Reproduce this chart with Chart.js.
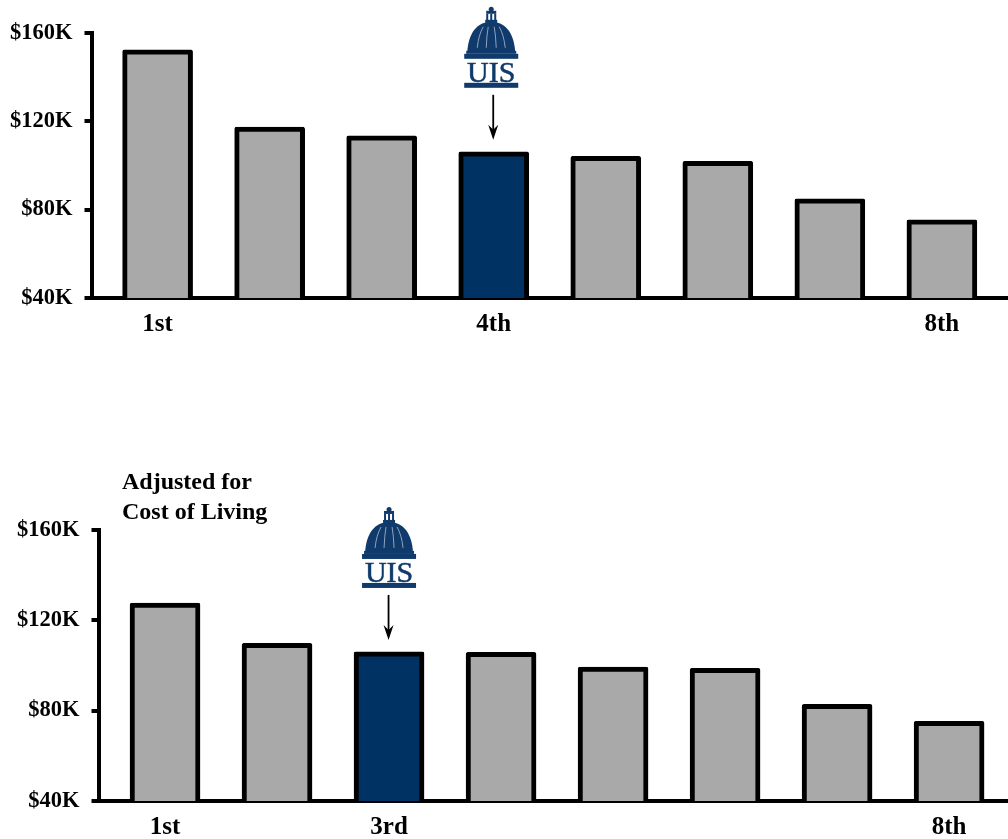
<!DOCTYPE html>
<html>
<head>
<meta charset="utf-8">
<script src="https://cdn.jsdelivr.net/npm/chart.js@4/dist/chart.umd.min.js"></script>
<style>
  html, body { margin: 0; padding: 0; background: #fff; }
  #page { position: relative; width: 1008px; height: 839px; overflow: hidden; }
  canvas { position: absolute; left: 0; }
  #note { position: absolute; left: 122px; top: 466px; font: bold 24px/30px "Liberation Serif", serif; color: #000; }
</style>
</head>
<body>
<div id="page">
  <canvas id="salaryChart" width="1008" height="340" style="top:0"></canvas>
  <canvas id="adjustedChart" width="1008" height="399" style="top:440px"></canvas>
  <div id="note">Adjusted for<br>Cost of Living</div>
</div>
<script>
const ranks = [1, 2, 3, 4, 5, 6, 7, 8];
const salaries = [152.4, 117.4, 113.4, 106.2, 104.1, 101.9, 84.9, 75.4];
const adjustedSalaries = [127.6, 109.8, 106, 105.8, 99.3, 98.8, 82.8, 75.3];
const yTicks = [40, 80, 120, 160];
const salaryRankLabels = { 1: '1st', 4: '4th', 8: '8th' };
const adjustedRankLabels = { 1: '1st', 3: '3rd', 8: '8th' };

const GREY = '#a9a9a9';
const NAVY = '#003263';
const LOGO = '#0f3a6b';
const FONT = '"Liberation Serif", serif';

// dome logo and arrow, hung above the highlighted bar
const logoPlugin = {
  id: 'logoPlugin',
  afterDatasetsDraw(chart, args, opts) {
    const bar = chart.getDatasetMeta(0).data[opts.index];
    const ctx = chart.ctx;
    const cx = bar.x + opts.shift;
    const ax = bar.x - 0.5;
    const arrowEnd = bar.y - 12;
    const arrowStart = arrowEnd - 45;
    const top = arrowStart - 88;
    ctx.save();

    ctx.strokeStyle = '#000';
    ctx.fillStyle = '#000';
    ctx.lineWidth = 1.8;
    ctx.beginPath();
    ctx.moveTo(ax, arrowStart);
    ctx.lineTo(ax, arrowEnd - 6);
    ctx.stroke();
    ctx.beginPath();
    ctx.moveTo(ax, arrowEnd);
    ctx.lineTo(ax - 5, arrowEnd - 15);
    ctx.lineTo(ax, arrowEnd - 10);
    ctx.lineTo(ax + 5, arrowEnd - 15);
    ctx.closePath();
    ctx.fill();

    ctx.fillStyle = LOGO;
    // lantern
    ctx.beginPath();
    ctx.arc(cx, top + 2.5, 2.5, 0, Math.PI * 2);
    ctx.fill();
    ctx.fillRect(cx - 5, top + 4, 10, 3);
    ctx.fillRect(cx - 5, top + 7, 2, 8);
    ctx.fillRect(cx - 1, top + 7, 2, 8);
    ctx.fillRect(cx + 3, top + 7, 2, 8);
    ctx.fillRect(cx - 6, top + 13, 12, 3);
    // dome
    ctx.beginPath();
    ctx.moveTo(cx - 24, top + 46);
    ctx.bezierCurveTo(cx - 23, top + 26, cx - 14, top + 15, cx, top + 15);
    ctx.bezierCurveTo(cx + 14, top + 15, cx + 23, top + 26, cx + 24, top + 46);
    ctx.closePath();
    ctx.fill();
    // ribs
    ctx.strokeStyle = '#8fa3ba';
    ctx.lineWidth = 1;
    [[-14, -8], [-5, -3], [5, 3], [14, 8]].forEach(([bottom, upper]) => {
      ctx.beginPath();
      ctx.moveTo(cx + bottom, top + 41);
      ctx.quadraticCurveTo(cx + bottom * 0.9, top + 28, cx + upper, top + 20);
      ctx.stroke();
    });
    ctx.fillRect(cx - 25, top + 44, 50, 3);
    ctx.fillRect(cx - 27, top + 47, 54, 5);
    ctx.fillRect(cx - 27, top + 76, 54, 5);
    ctx.font = '30px ' + FONT;
    ctx.textAlign = 'center';
    ctx.textBaseline = 'alphabetic';
    ctx.fillText('UIS', cx, top + 75);
    ctx.strokeStyle = LOGO;
    ctx.lineWidth = 0.5;
    ctx.strokeText('UIS', cx, top + 75);
    ctx.restore();
  }
};

function drawSalaryChart(id, values, highlight, rankLabels, axisLeft, axisBottomGap, chartTop, xMin, xMax, logoShift) {
  return new Chart(document.getElementById(id), {
    type: 'bar',
    plugins: [logoPlugin],
    data: {
      datasets: [{
        data: ranks.map((r, i) => ({ x: r, y: values[i] })),
        backgroundColor: ranks.map((r, i) => i === highlight ? NAVY : GREY),
        borderColor: '#000',
        borderWidth: 5,
        borderSkipped: false,
        borderRadius: 2,
        barThickness: 70
      }]
    },
    options: {
      responsive: false,
      animation: false,
      layout: { padding: { top: chartTop, left: 0, right: 0, bottom: 0 } },
      plugins: {
        legend: { display: false },
        tooltip: { enabled: false },
        logoPlugin: { index: highlight, shift: logoShift }
      },
      scales: {
        x: {
          type: 'linear',
          offset: false,
          min: xMin,
          max: xMax,
          afterBuildTicks: (scale) => {
            scale.ticks = Object.keys(rankLabels).map(v => ({ value: Number(v) }));
          },
          afterFit: (scale) => { scale.height = axisBottomGap; },
          border: { color: '#000', width: 4 },
          grid: { display: false, drawTicks: false, offset: false },
          ticks: {
            autoSkip: false,
            maxRotation: 0,
            padding: 12,
            color: '#000',
            font: { family: FONT, weight: 'bold', size: 25 },
            callback: (v) => rankLabels[v] || ''
          }
        },
        y: {
          min: 40,
          max: 160,
          afterBuildTicks: (scale) => {
            scale.ticks = yTicks.map(v => ({ value: v }));
          },
          afterFit: (scale) => { scale.width = axisLeft; },
          border: { color: '#000', width: 4 },
          grid: { drawOnChartArea: false, color: '#000', lineWidth: 4, tickLength: 7 },
          ticks: {
            padding: 12,
            color: '#000',
            font: { family: FONT, weight: 'bold', size: 22.5 },
            callback: (v) => '$' + v + 'K'
          }
        }
      }
    }
  });
}

drawSalaryChart('salaryChart', salaries, 3, salaryRankLabels, 91.5, 42, 33, 0.41, 8.59, -2.5);
drawSalaryChart('adjustedChart', adjustedSalaries, 2, adjustedRankLabels, 98.5, 38, 90, 0.406, 8.526, 0);
</script>
</body>
</html>
